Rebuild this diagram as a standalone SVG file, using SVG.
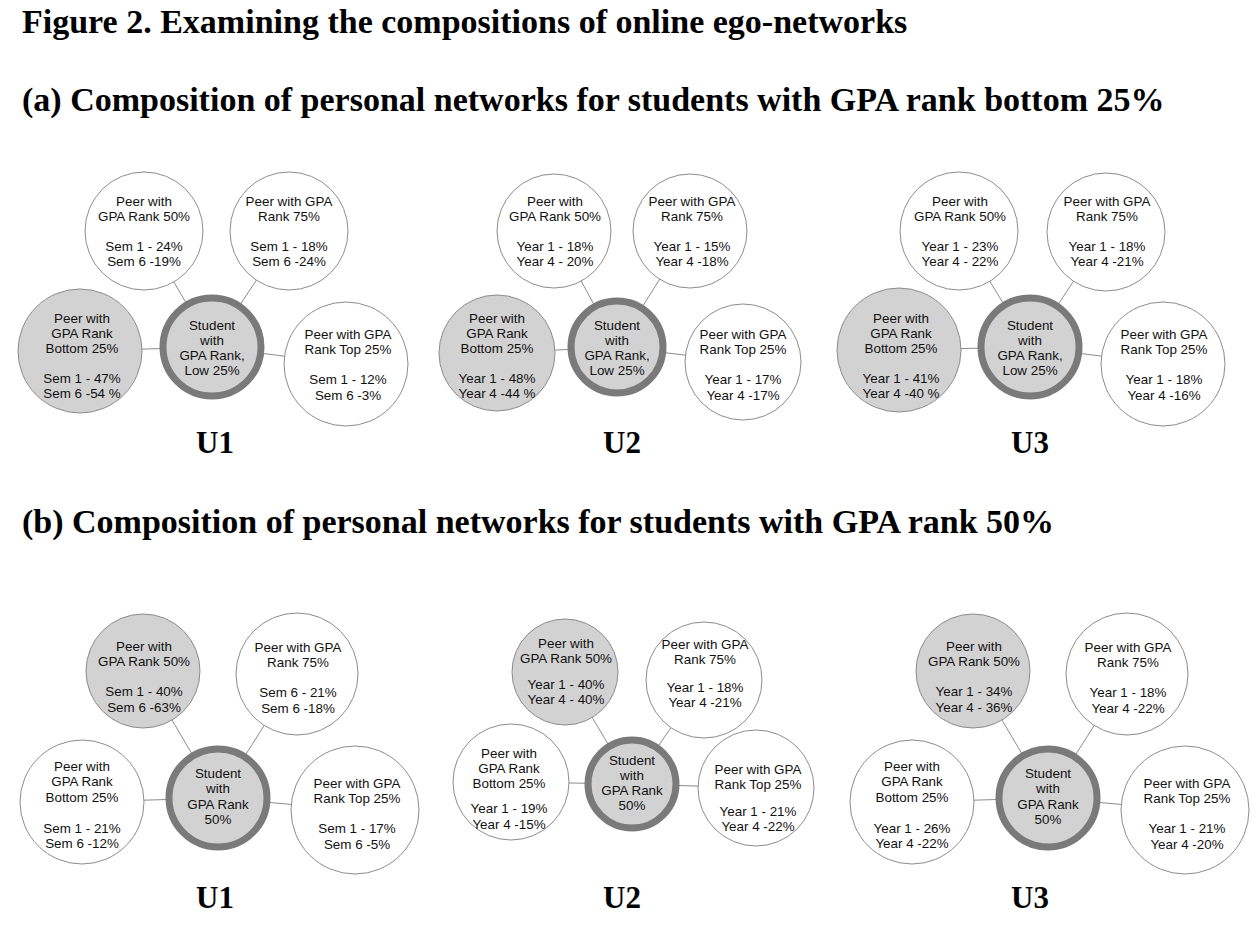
<svg xmlns="http://www.w3.org/2000/svg" width="1257" height="929" viewBox="0 0 1257 929">
<style>
.bg{fill:#fff}
.p{fill:#fff;stroke:#8c8c8c;stroke-width:1}
.g{fill:#d2d2d2;stroke:#8c8c8c;stroke-width:1}
.c{fill:#d2d2d2;stroke:#7a7a7a;stroke-width:7}
.t{font-family:"Liberation Sans",Arial,sans-serif;font-size:13.4px;fill:#111;text-anchor:middle}
.h{font-family:"Liberation Serif","Times New Roman",serif;font-weight:bold;font-size:34px;fill:#000}
.u{font-family:"Liberation Serif","Times New Roman",serif;font-weight:bold;font-size:31px;fill:#000;text-anchor:middle}
.e line{stroke:#8c8c8c;stroke-width:1}
</style>
<rect class="bg" x="0" y="0" width="1257" height="929"/>
<g id="headings">
<text class="h" x="22" y="33">Figure 2. Examining the compositions of online ego-networks</text>
<text class="h" x="22" y="111">(a) Composition of personal networks for students with GPA rank bottom 25%</text>
<text class="h" x="22" y="533">(b) Composition of personal networks for students with GPA rank 50%</text>
</g>
<g id="connectors" class="e">
<line x1="144" y1="231" x2="212" y2="347"/><line x1="289" y1="231" x2="212" y2="347"/><line x1="80" y1="351" x2="212" y2="347"/><line x1="346" y1="364" x2="212" y2="347"/>
<line x1="554" y1="231" x2="617" y2="347"/><line x1="690" y1="231" x2="617" y2="347"/><line x1="497" y1="353" x2="617" y2="347"/><line x1="743" y1="362" x2="617" y2="347"/>
<line x1="959" y1="231" x2="1030" y2="347"/><line x1="1106" y1="232" x2="1030" y2="347"/><line x1="899" y1="350" x2="1030" y2="347"/><line x1="1163" y1="364" x2="1030" y2="347"/>
<line x1="143" y1="671" x2="218" y2="798"/><line x1="297" y1="674" x2="218" y2="798"/><line x1="82" y1="802" x2="218" y2="798"/><line x1="355" y1="810" x2="218" y2="798"/>
<line x1="565" y1="672" x2="632" y2="784"/><line x1="704" y1="680" x2="632" y2="784"/><line x1="511" y1="782" x2="632" y2="784"/><line x1="756" y1="788" x2="632" y2="784"/>
<line x1="973" y1="671" x2="1048" y2="798"/><line x1="1127" y1="674" x2="1048" y2="798"/><line x1="912" y1="802" x2="1048" y2="798"/><line x1="1185" y1="810" x2="1048" y2="798"/>
</g>

<g id="a1-tl"><circle class="p" cx="144" cy="231" r="59"/><text class="t"><tspan x="144" y="206">Peer with</tspan><tspan x="144" y="221">GPA Rank 50%</tspan><tspan x="144" y="251">Sem 1 - 24%</tspan><tspan x="144" y="266">Sem 6 -19%</tspan></text></g>
<g id="a1-tr"><circle class="p" cx="289" cy="231" r="59"/><text class="t"><tspan x="289" y="206">Peer with GPA</tspan><tspan x="289" y="221">Rank 75%</tspan><tspan x="289" y="251">Sem 1 - 18%</tspan><tspan x="289" y="266">Sem 6 -24%</tspan></text></g>
<g id="a1-c"><circle class="c" cx="212" cy="347" r="49"/><text class="t"><tspan x="212" y="330">Student</tspan><tspan x="212" y="345">with</tspan><tspan x="212" y="360">GPA Rank,</tspan><tspan x="212" y="375">Low 25%</tspan></text></g>
<g id="a1-l"><circle class="g" cx="80" cy="351" r="62"/><text class="t"><tspan x="82" y="323">Peer with</tspan><tspan x="82" y="338">GPA Rank</tspan><tspan x="82" y="353">Bottom 25%</tspan><tspan x="82" y="383">Sem 1 - 47%</tspan><tspan x="82" y="398">Sem 6 -54 %</tspan></text></g>
<g id="a1-r"><circle class="p" cx="346" cy="364" r="62"/><text class="t"><tspan x="348" y="339">Peer with GPA</tspan><tspan x="348" y="354">Rank Top 25%</tspan><tspan x="348" y="384">Sem 1 - 12%</tspan><tspan x="348" y="400">Sem 6 -3%</tspan></text></g>
<g id="a1-label"><text class="u" x="215" y="453">U1</text></g>

<g id="a2-tl"><circle class="p" cx="554" cy="231" r="57"/><text class="t"><tspan x="555" y="206">Peer with</tspan><tspan x="555" y="221">GPA Rank 50%</tspan><tspan x="555" y="251">Year 1 - 18%</tspan><tspan x="555" y="266">Year 4 - 20%</tspan></text></g>
<g id="a2-tr"><circle class="p" cx="690" cy="231" r="57"/><text class="t"><tspan x="692" y="206">Peer with GPA</tspan><tspan x="692" y="221">Rank 75%</tspan><tspan x="692" y="251">Year 1 - 15%</tspan><tspan x="692" y="266">Year 4 -18%</tspan></text></g>
<g id="a2-c"><circle class="c" cx="617" cy="347" r="46"/><text class="t"><tspan x="617" y="330">Student</tspan><tspan x="617" y="345">with</tspan><tspan x="617" y="360">GPA Rank,</tspan><tspan x="617" y="375">Low 25%</tspan></text></g>
<g id="a2-l"><circle class="g" cx="497" cy="353" r="58"/><text class="t"><tspan x="497" y="323">Peer with</tspan><tspan x="497" y="338">GPA Rank</tspan><tspan x="497" y="353">Bottom 25%</tspan><tspan x="497" y="383">Year 1 - 48%</tspan><tspan x="497" y="398">Year 4 -44 %</tspan></text></g>
<g id="a2-r"><circle class="p" cx="743" cy="362" r="58"/><text class="t"><tspan x="743" y="339">Peer with GPA</tspan><tspan x="743" y="354">Rank Top 25%</tspan><tspan x="743" y="384">Year 1 - 17%</tspan><tspan x="743" y="400">Year 4 -17%</tspan></text></g>
<g id="a2-label"><text class="u" x="622" y="453">U2</text></g>

<g id="a3-tl"><circle class="p" cx="959" cy="231" r="59"/><text class="t"><tspan x="960" y="206">Peer with</tspan><tspan x="960" y="221">GPA Rank 50%</tspan><tspan x="960" y="251">Year 1 - 23%</tspan><tspan x="960" y="266">Year 4 - 22%</tspan></text></g>
<g id="a3-tr"><circle class="p" cx="1106" cy="232" r="59"/><text class="t"><tspan x="1107" y="206">Peer with GPA</tspan><tspan x="1107" y="221">Rank 75%</tspan><tspan x="1107" y="251">Year 1 - 18%</tspan><tspan x="1107" y="266">Year 4 -21%</tspan></text></g>
<g id="a3-c"><circle class="c" cx="1030" cy="347" r="49"/><text class="t"><tspan x="1030" y="330">Student</tspan><tspan x="1030" y="345">with</tspan><tspan x="1030" y="360">GPA Rank,</tspan><tspan x="1030" y="375">Low 25%</tspan></text></g>
<g id="a3-l"><circle class="g" cx="899" cy="350" r="62"/><text class="t"><tspan x="901" y="323">Peer with</tspan><tspan x="901" y="338">GPA Rank</tspan><tspan x="901" y="353">Bottom 25%</tspan><tspan x="901" y="383">Year 1 - 41%</tspan><tspan x="901" y="398">Year 4 -40 %</tspan></text></g>
<g id="a3-r"><circle class="p" cx="1163" cy="364" r="62"/><text class="t"><tspan x="1164" y="339">Peer with GPA</tspan><tspan x="1164" y="354">Rank Top 25%</tspan><tspan x="1164" y="384">Year 1 - 18%</tspan><tspan x="1164" y="400">Year 4 -16%</tspan></text></g>
<g id="a3-label"><text class="u" x="1030" y="453">U3</text></g>

<g id="b1-tl"><circle class="g" cx="143" cy="671" r="57"/><text class="t"><tspan x="144" y="651">Peer with</tspan><tspan x="144" y="666">GPA Rank 50%</tspan><tspan x="144" y="696">Sem 1 - 40%</tspan><tspan x="144" y="712">Sem 6 -63%</tspan></text></g>
<g id="b1-tr"><circle class="p" cx="297" cy="674" r="61"/><text class="t"><tspan x="298" y="652">Peer with GPA</tspan><tspan x="298" y="667">Rank 75%</tspan><tspan x="298" y="697">Sem 6 - 21%</tspan><tspan x="298" y="713">Sem 6 -18%</tspan></text></g>
<g id="b1-c"><circle class="c" cx="218" cy="798" r="49"/><text class="t"><tspan x="218" y="778">Student</tspan><tspan x="218" y="793">with</tspan><tspan x="218" y="809">GPA Rank</tspan><tspan x="218" y="824">50%</tspan></text></g>
<g id="b1-l"><circle class="p" cx="82" cy="802" r="62"/><text class="t"><tspan x="82" y="771">Peer with</tspan><tspan x="82" y="786">GPA Rank</tspan><tspan x="82" y="802">Bottom 25%</tspan><tspan x="82" y="833">Sem 1 - 21%</tspan><tspan x="82" y="848">Sem 6 -12%</tspan></text></g>
<g id="b1-r"><circle class="p" cx="355" cy="810" r="64"/><text class="t"><tspan x="357" y="788">Peer with GPA</tspan><tspan x="357" y="803">Rank Top 25%</tspan><tspan x="357" y="833">Sem 1 - 17%</tspan><tspan x="357" y="849">Sem 6 -5%</tspan></text></g>
<g id="b1-label"><text class="u" x="215" y="908">U1</text></g>

<g id="b2-tl"><circle class="g" cx="565" cy="672" r="53"/><text class="t"><tspan x="566" y="648">Peer with</tspan><tspan x="566" y="663">GPA Rank 50%</tspan><tspan x="566" y="689">Year 1 - 40%</tspan><tspan x="566" y="704">Year 4 - 40%</tspan></text></g>
<g id="b2-tr"><circle class="p" cx="704" cy="680" r="58"/><text class="t"><tspan x="705" y="649">Peer with GPA</tspan><tspan x="705" y="664">Rank 75%</tspan><tspan x="705" y="692">Year 1 - 18%</tspan><tspan x="705" y="707">Year 4 -21%</tspan></text></g>
<g id="b2-c"><circle class="c" cx="632" cy="784" r="44"/><text class="t"><tspan x="632" y="765">Student</tspan><tspan x="632" y="780">with</tspan><tspan x="632" y="795">GPA Rank</tspan><tspan x="632" y="810">50%</tspan></text></g>
<g id="b2-l"><circle class="p" cx="511" cy="782" r="58"/><text class="t"><tspan x="509" y="758">Peer with</tspan><tspan x="509" y="773">GPA Rank</tspan><tspan x="509" y="788">Bottom 25%</tspan><tspan x="509" y="813">Year 1 - 19%</tspan><tspan x="509" y="829">Year 4 -15%</tspan></text></g>
<g id="b2-r"><circle class="p" cx="756" cy="788" r="58"/><text class="t"><tspan x="758" y="774">Peer with GPA</tspan><tspan x="758" y="789">Rank Top 25%</tspan><tspan x="758" y="816">Year 1 - 21%</tspan><tspan x="758" y="831">Year 4 -22%</tspan></text></g>
<g id="b2-label"><text class="u" x="622" y="908">U2</text></g>

<g id="b3-tl"><circle class="g" cx="973" cy="671" r="57"/><text class="t"><tspan x="974" y="651">Peer with</tspan><tspan x="974" y="666">GPA Rank 50%</tspan><tspan x="974" y="696">Year 1 - 34%</tspan><tspan x="974" y="712">Year 4 - 36%</tspan></text></g>
<g id="b3-tr"><circle class="p" cx="1127" cy="674" r="61"/><text class="t"><tspan x="1128" y="652">Peer with GPA</tspan><tspan x="1128" y="667">Rank 75%</tspan><tspan x="1128" y="697">Year 1 - 18%</tspan><tspan x="1128" y="713">Year 4 -22%</tspan></text></g>
<g id="b3-c"><circle class="c" cx="1048" cy="798" r="49"/><text class="t"><tspan x="1048" y="778">Student</tspan><tspan x="1048" y="793">with</tspan><tspan x="1048" y="809">GPA Rank</tspan><tspan x="1048" y="824">50%</tspan></text></g>
<g id="b3-l"><circle class="p" cx="912" cy="802" r="62"/><text class="t"><tspan x="912" y="771">Peer with</tspan><tspan x="912" y="786">GPA Rank</tspan><tspan x="912" y="802">Bottom 25%</tspan><tspan x="912" y="833">Year 1 - 26%</tspan><tspan x="912" y="848">Year 4 -22%</tspan></text></g>
<g id="b3-r"><circle class="p" cx="1185" cy="810" r="64"/><text class="t"><tspan x="1187" y="788">Peer with GPA</tspan><tspan x="1187" y="803">Rank Top 25%</tspan><tspan x="1187" y="833">Year 1 - 21%</tspan><tspan x="1187" y="849">Year 4 -20%</tspan></text></g>
<g id="b3-label"><text class="u" x="1030" y="908">U3</text></g>
</svg>
